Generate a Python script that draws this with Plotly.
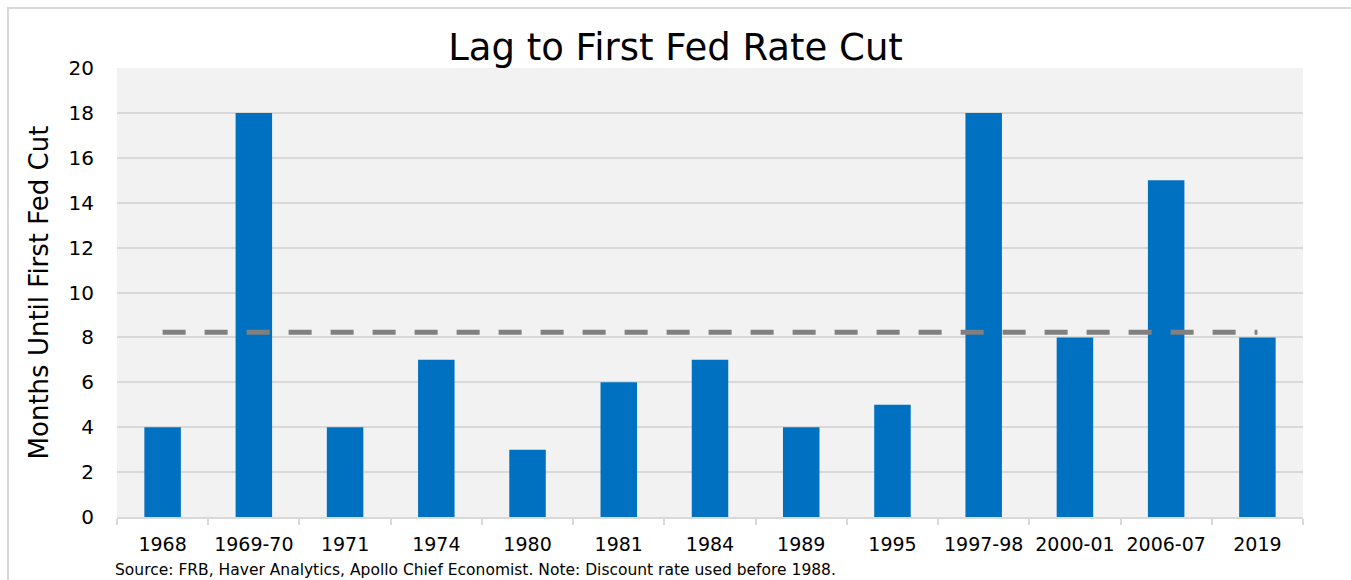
import plotly.graph_objects as go

categories = ["1968", "1969-70", "1971", "1974", "1980", "1981", "1984", "1989",
              "1995", "1997-98", "2000-01", "2006-07", "2019"]
months = [4, 18, 4, 7, 3, 6, 7, 4, 5, 18, 8, 15, 8]
average = sum(months) / len(months)
y_ticks = [0, 2, 4, 6, 8, 10, 12, 14, 16, 18, 20]

FONT = "DejaVu Sans"
BLUE = "#0070C0"
GRID = "#D9D9D9"

fig = go.Figure()
fig.add_trace(go.Bar(x=categories, y=months, marker=dict(color=BLUE, line=dict(width=0)),
                     showlegend=False))
fig.add_trace(go.Scatter(x=categories, y=[average] * len(categories), mode="lines",
                         line=dict(color="#808080", width=5, dash="23px,19px"),
                         showlegend=False))

W, H = 1351, 580
L, R, T, B = 117, 48, 68, 63
pw, ph = W - L - R, H - T - B

def px_x(p):
    return (p - L) / pw

def px_y(p):
    return (H - B - p) / ph

fig.add_shape(type="rect", xref="paper", yref="paper",
              x0=px_x(8), x1=px_x(1360), y0=px_y(590), y1=px_y(8),
              line=dict(color=GRID, width=2), fillcolor="rgba(0,0,0,0)", layer="below")

fig.update_layout(
    width=W, height=H,
    margin=dict(l=L, r=R, t=T, b=B),
    paper_bgcolor="white", plot_bgcolor="#F2F2F2",
    bargap=0.6,
    font=dict(family=FONT, color="#000000"),
    title=dict(text="Lag to First Fed Rate Cut", x=0.5, xanchor="center",
               y=1 - 47 / H, yanchor="middle", font=dict(size=37, family=FONT)),
    xaxis=dict(type="category", showgrid=False, showline=True, linecolor=GRID, linewidth=2,
               ticks="outside", tickson="boundaries", ticklen=6, tickcolor=GRID, tickwidth=2,
               ticklabelstandoff=9,
               tickfont=dict(size=19, family=FONT), fixedrange=True),
    yaxis=dict(range=[0, 20], tickvals=y_ticks, showgrid=True, gridcolor=GRID, gridwidth=2,
               zeroline=False, showline=False, ticks="", ticklabelstandoff=22,
               tickfont=dict(size=20, family=FONT),
               title=dict(text="Months Until First Fed Cut", font=dict(size=26, family=FONT),
                          standoff=12)),
    annotations=[dict(text="Source: FRB, Haver Analytics, Apollo Chief Economist. Note: Discount rate used before 1988.",
                      xref="paper", yref="paper", x=px_x(113), y=px_y(570),
                      xanchor="left", yanchor="middle", showarrow=False,
                      font=dict(size=15.5, family=FONT))],
)

fig.write_html("out.html")
